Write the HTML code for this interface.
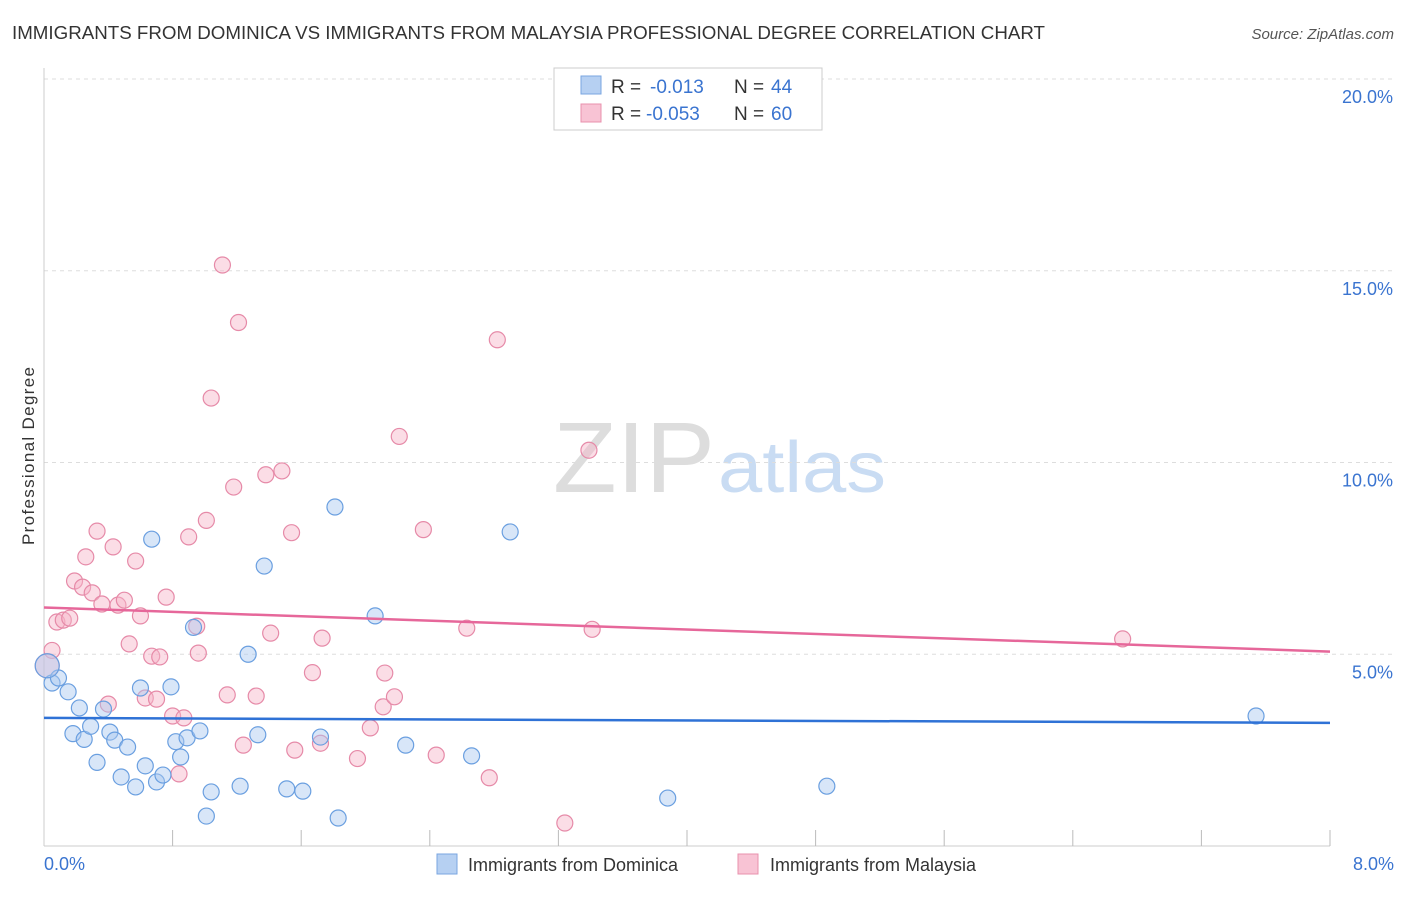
<!DOCTYPE html>
<html><head><meta charset="utf-8"><style>
body{margin:0;background:#fff;font-family:"Liberation Sans",sans-serif}
svg text{font-family:"Liberation Sans",sans-serif}
</style></head><body>
<svg id="c" width="1406" height="892">
<text x="12" y="39" font-size="18" fill="#333" textLength="1033" lengthAdjust="spacingAndGlyphs">IMMIGRANTS FROM DOMINICA VS IMMIGRANTS FROM MALAYSIA PROFESSIONAL DEGREE CORRELATION CHART</text>
<text x="1394" y="39" font-size="15" fill="#555" text-anchor="end" font-style="italic">Source: ZipAtlas.com</text>
<text x="34" y="456" font-size="17" fill="#333" text-anchor="middle" textLength="178" transform="rotate(-90 34 456)">Professional Degree</text>
<text x="553" y="492" font-size="100" fill="#ddd" font-family="Liberation Serif" textLength="162" lengthAdjust="spacingAndGlyphs">ZIP</text>
<text x="718" y="492" font-size="72" fill="#c9dcf3" textLength="168" lengthAdjust="spacingAndGlyphs">atlas</text>
<g id="grid"></g><g id="pts"></g>
<g>
<rect x="554" y="68" width="268" height="62" fill="#fff" stroke="#ccc"/>
<rect x="581" y="76" width="20" height="18" fill="#b6d0f2" stroke="#7aa6e0"/>
<rect x="581" y="104" width="20" height="18" fill="#f8c3d4" stroke="#e890ad"/>
<text x="611" y="93" font-size="19" fill="#333">R =</text>
<text x="650" y="93" font-size="19" fill="#3a74d0">-0.013</text>
<text x="734" y="93" font-size="19" fill="#333">N =</text>
<text x="771" y="93" font-size="19" fill="#3a74d0">44</text>
<text x="611" y="120" font-size="19" fill="#333">R =</text>
<text x="646" y="120" font-size="19" fill="#3a74d0">-0.053</text>
<text x="734" y="120" font-size="19" fill="#333">N =</text>
<text x="771" y="120" font-size="19" fill="#3a74d0">60</text>
</g>
<g>
<rect x="437" y="854" width="20" height="20" fill="#b6d0f2" stroke="#7aa6e0"/>
<text x="468" y="871" font-size="18" fill="#333">Immigrants from Dominica</text>
<rect x="738" y="854" width="20" height="20" fill="#f8c3d4" stroke="#e890ad"/>
<text x="770" y="871" font-size="18" fill="#333">Immigrants from Malaysia</text>
</g>
</svg>
<script>
const yTicks=[5,10,15,20];
const xTickCount=10;
const blueX=[0.05,0.09,0.15,0.22,0.18,0.25,0.29,0.33,0.37,0.41,0.44,0.48,0.52,0.57,0.60,0.63,0.67,0.70,0.74,0.79,0.82,0.85,0.89,0.93,0.97,1.01,1.04,1.22,1.27,1.33,1.37,1.51,1.61,1.72,1.81,1.83,2.06,2.25,2.66,2.90,3.88,4.87,7.54,0.02];
const blueY=[4.25,4.38,4.02,3.6,2.93,2.78,3.12,2.18,3.57,2.97,2.76,1.8,2.58,1.54,4.12,2.09,8.0,1.67,1.85,4.15,2.72,2.32,2.82,5.7,3.0,0.78,1.41,1.56,5.0,2.9,7.3,1.49,1.43,2.84,8.84,0.73,6.0,2.63,2.35,8.19,1.25,1.56,3.39,4.7];
const pinkX=[0.05,0.08,0.12,0.16,0.19,0.24,0.26,0.30,0.33,0.36,0.40,0.43,0.46,0.50,0.53,0.57,0.60,0.63,0.67,0.70,0.72,0.76,0.80,0.84,0.87,0.90,0.95,0.96,1.01,1.04,1.11,1.14,1.18,1.21,1.24,1.32,1.38,1.41,1.48,1.54,1.56,1.67,1.72,1.73,1.95,2.03,2.11,2.12,2.18,2.21,2.36,2.44,2.63,2.77,2.82,3.24,3.39,3.41,6.71,0.02];
const pinkY=[5.1,5.84,5.89,5.94,6.91,6.75,7.54,6.6,8.21,6.31,3.7,7.8,6.28,6.41,5.27,7.43,6.0,3.86,4.95,3.83,4.93,6.49,3.39,1.88,3.34,8.06,5.73,5.03,8.49,11.68,15.15,3.94,9.36,13.65,2.63,3.91,9.68,5.55,9.78,8.17,2.5,4.52,2.68,5.42,2.28,3.08,3.63,4.51,3.89,10.68,8.25,2.37,5.68,1.78,13.2,0.6,10.32,5.65,5.4,4.7];
const blueTrend=[3.34,3.21];
const pinkTrend=[6.22,5.07];
const X0=44,X1=1330,Y0=846,PY=38.35;
const sx=v=>X0+(v/8)*(X1-X0), sy=v=>Y0-v*PY;
const NS='http://www.w3.org/2000/svg';
const grid=document.getElementById('grid'), pts=document.getElementById('pts');
function mk(tag,attrs,parent){const e=document.createElementNS(NS,tag);for(const k in attrs)e.setAttribute(k,attrs[k]);parent.appendChild(e);return e;}
yTicks.forEach(t=>{
 const l=mk('line',{x1:X0,x2:1394,y1:sy(t),y2:sy(t),stroke:'#ddd','stroke-dasharray':'4,4'},grid);
 
 
 const tx=mk('text',{x:1393,y:sy(t)+24,'font-size':18,fill:'#3a74d0','text-anchor':'end'},grid);
 tx.textContent=t.toFixed(1)+'%';
 
 
});
const ax=mk('line',{x1:X0,x2:X0,y1:68,y2:Y0,stroke:'#ccc'},grid);


const bx=mk('line',{x1:X0,x2:X1,y1:Y0,y2:Y0,stroke:'#ccc'},grid);


for(let i=1;i<=xTickCount;i++){const x=sx(i*8/xTickCount);const t=mk('line',{x1:x,x2:x,y1:830,y2:Y0,stroke:'#bbb'},grid);
 
 }
[['0.0%',X0,'start'],['8.0%',1394,'end']].forEach(a=>{const t=mk('text',{x:a[1],y:870,'font-size':18,fill:'#3a74d0','text-anchor':a[2]},grid);t.textContent=a[0];
 
 });
function series(xs,ys,fill,stroke,name){xs.forEach((x,i)=>{const c=mk('circle',{cx:sx(x),cy:sy(ys[i]),r:(i==xs.length-1)?12:8,fill:fill,'fill-opacity':0.45,stroke:stroke,'stroke-width':1.2},pts);
 
 });}
series(pinkX,pinkY,'#f6b3c8','#e68aa8','malaysia-point');
series(blueX,blueY,'#a9c8f0','#6a9fe0','dominica-point');
const bl=mk('line',{x1:X0,x2:X1,y1:sy(blueTrend[0]),y2:sy(blueTrend[1]),stroke:'#2f72d6','stroke-width':2.5},pts);


const pl=mk('line',{x1:X0,x2:X1,y1:sy(pinkTrend[0]),y2:sy(pinkTrend[1]),stroke:'#e6679a','stroke-width':2.5},pts);


</script>
</body></html>
